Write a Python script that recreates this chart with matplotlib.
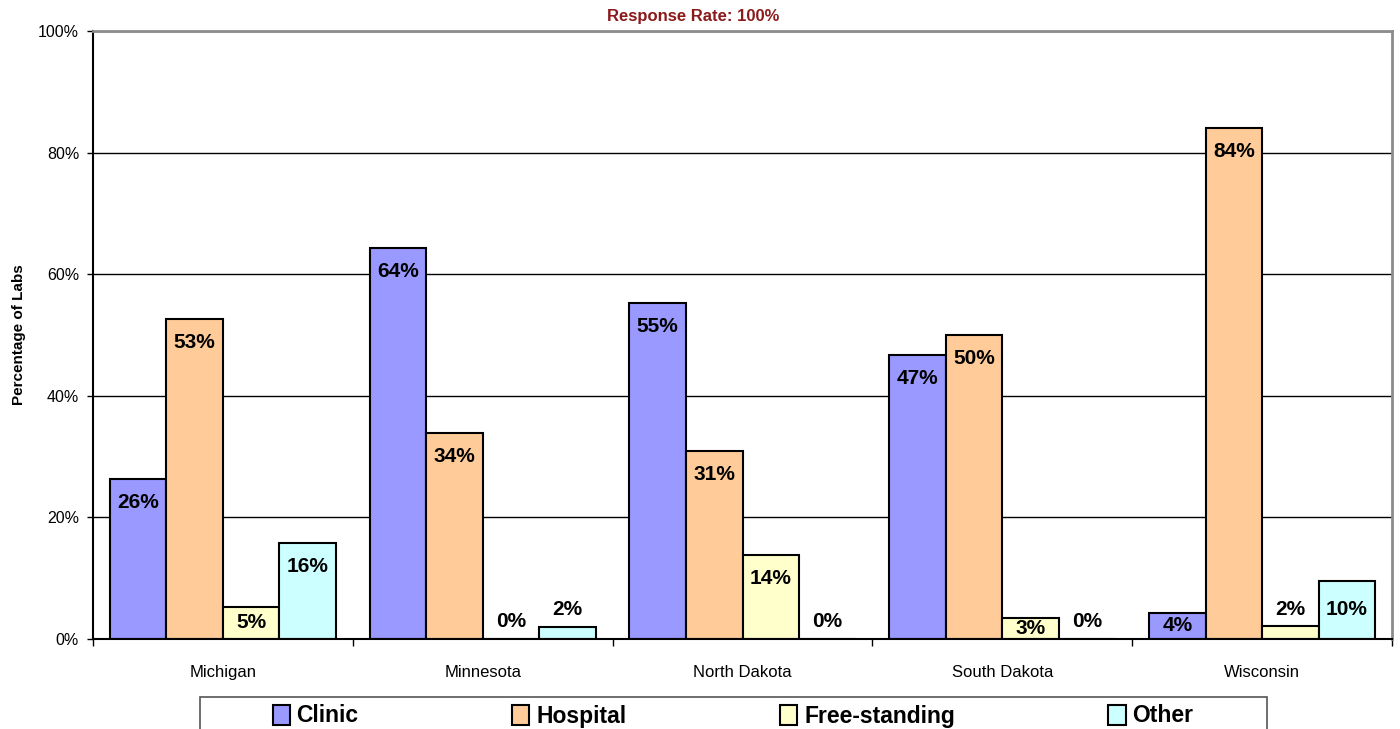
import numpy as np
import matplotlib
matplotlib.use("Agg")
import matplotlib.pyplot as plt
from matplotlib.patches import Rectangle

plt.rcParams['font.family'] = ['Liberation Sans', 'DejaVu Sans']

states = ['Michigan', 'Minnesota', 'North Dakota', 'South Dakota', 'Wisconsin']
series = ['Clinic', 'Hospital', 'Free-standing', 'Other']
clinic = [26.3, 64.3, 55.3, 46.7, 4.3]
hospital = [52.6, 33.9, 30.9, 50.0, 84.0]
free_standing = [5.3, 0.0, 13.8, 3.4, 2.1]
other = [15.8, 2.0, 0.0, 0.0, 9.6]
colors = ['#9999FF', '#FFCC99', '#FFFFCC', '#CCFFFF']

values = [clinic, hospital, free_standing, other]

fig = plt.figure(figsize=(14, 7.29), dpi=100)
ax = fig.add_axes([93 / 1400, 90 / 729, 1299 / 1400, 608 / 729])

x = np.arange(len(states))
w = 0.2175
for i, (name, vals, col) in enumerate(zip(series, values, colors)):
    pos = x + (i - 1.5) * w
    ax.bar(pos, vals, width=w, color=col, edgecolor='black', linewidth=1.5,
           label=name, zorder=3)
    for xp, v in zip(pos, vals):
        # labels sit inside tall bars, above very short ones
        if v >= 10:
            ty = v - 3.9
        elif v >= 3:
            ty = v * 0.5
        else:
            ty = v + 2.8
        ax.text(xp, ty, '%.0f%%' % v, ha='center', va='center',
                fontsize=15, fontweight='bold', zorder=4)

ax.set_xlim(-0.5, len(states) - 0.5)
ax.set_ylim(0, 100)
ax.set_yticks(range(0, 101, 20))
ax.set_yticklabels(['%d%%' % t for t in range(0, 101, 20)], fontsize=11.5)
ax.tick_params(axis='y', direction='out', length=4, width=1, pad=6)

ax.set_xticks(x)
ax.set_xticklabels(states, fontsize=12)
ax.tick_params(axis='x', which='major', length=0, pad=19)
ax.set_xticks(np.arange(len(states) + 1) - 0.5, minor=True)
ax.tick_params(axis='x', which='minor', direction='out', length=5, width=1)

ax.yaxis.grid(True, color='black', linewidth=1, zorder=0)
ax.set_axisbelow(True)
for s in ['left', 'bottom']:
    ax.spines[s].set_color('black')
    ax.spines[s].set_linewidth(1.5)
for s in ['top', 'right']:
    ax.spines[s].set_color('#8c8c8c')
    ax.spines[s].set_linewidth(2)
ax.spines['bottom'].set_zorder(5)

ax.set_ylabel('Percentage of Labs', fontsize=11, fontweight='bold')
ax.yaxis.set_label_coords(-0.0515, 0.5)

fig.text(693 / 1400, 1 - 17 / 729, 'Response Rate: 100%', ha='center',
         va='center', fontsize=12, fontweight='bold', color='#8B1A1A')

# legend box runs past the bottom edge of the figure
fig.patches.append(Rectangle((200 / 1400, -0.05), 1067 / 1400,
                             0.05 + 32 / 729, transform=fig.transFigure,
                             facecolor='white', edgecolor='#555555',
                             linewidth=1.2))
fig.legend(loc='center', bbox_to_anchor=(733 / 1400, 1 - 716 / 729),
           ncol=4, frameon=False, prop={'weight': 'bold', 'size': 16.5},
           handlelength=0.75, handleheight=0.95, handletextpad=0.3,
           columnspacing=6.7)

fig.savefig('out.png', dpi=100)
